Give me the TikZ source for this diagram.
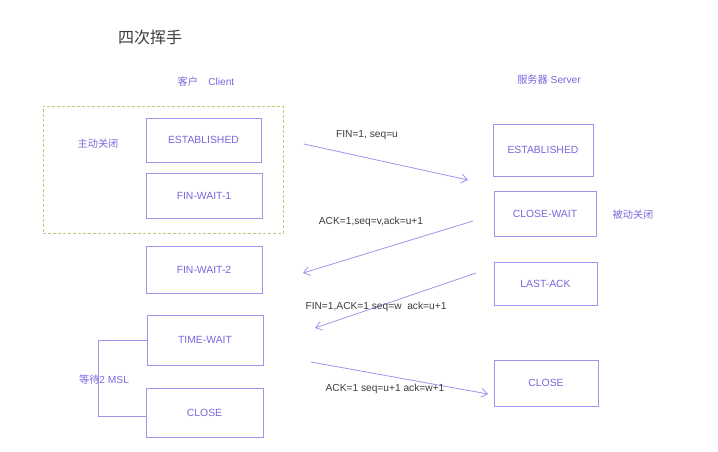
\documentclass[tikz,border=0pt]{standalone}
\usepackage{fontspec}
\setmainfont{Liberation Sans}
\newfontfamily\cjk{Noto Sans CJK SC}
\usepackage{tikz}
\usetikzlibrary{arrows.meta,positioning}

\definecolor{boxline}{RGB}{165,145,235}
\definecolor{boxtext}{RGB}{125,100,220}
\definecolor{msgtext}{RGB}{60,60,60}
\definecolor{groupline}{RGB}{185,205,125}

\begin{document}
\begin{tikzpicture}[x=1pt,y=-1pt]
\tikzstyle{state}=[rectangle,draw=boxline,line width=0.8pt,text=boxtext,font=\fontsize{10.4}{12}\selectfont,inner sep=0pt]
\tikzstyle{msg}=[draw=boxline,line width=0.8pt,-{Straight Barb[length=6pt,width=9pt]}]
\tikzstyle{lbl}=[text=msgtext,font=\fontsize{10.2}{12}\selectfont,inner sep=0pt]
\tikzstyle{side}=[text=boxtext,font=\fontsize{10.2}{12}\selectfont,inner sep=0pt]

\useasboundingbox (0,0) rectangle (718,451);

\node[text=msgtext,font=\cjk\fontsize{16}{18}\selectfont] (title) at (150,37) {四次挥手};

% client side
\node[side] (client) at (206,82) {{\cjk 客户}\quad Client};
\node[draw=groupline,line width=0.8pt,dash pattern=on 3pt off 2pt,minimum width=240pt,minimum height=127pt] (active) at (163,169.5) {};
\node[side,font=\cjk\fontsize{10.2}{12}\selectfont] (activelbl) at (98,144) {主动关闭};
\node[state,minimum width=115pt,minimum height=44pt] (cest) at (203.5,140) {ESTABLISHED};
\node[state,minimum width=116pt,minimum height=45pt] (fw1) at (204,195.5) {FIN-WAIT-1};
\node[state,minimum width=116pt,minimum height=47pt] (fw2) at (204,269.5) {FIN-WAIT-2};
\node[state,minimum width=116pt,minimum height=50pt] (tw) at (205,340) {TIME-WAIT};
\node[state,minimum width=117pt,minimum height=49pt] (cclose) at (204.5,412.5) {CLOSE};

% server side
\node[side] (server) at (549,80) {{\cjk 服务器} Server};
\node[state,minimum width=100pt,minimum height=52pt] (sest) at (543,150) {ESTABLISHED};
\node[state,minimum width=102pt,minimum height=45pt] (cw) at (545,213.5) {CLOSE-WAIT};
\node[side,font=\cjk\fontsize{10.2}{12}\selectfont] (passivelbl) at (633,215) {被动关闭};
\node[state,minimum width=103pt,minimum height=43pt] (la) at (545.5,283.5) {LAST-ACK};
\node[state,minimum width=104pt,minimum height=46pt] (sclose) at (546,383) {CLOSE};

% messages
\coordinate (m1s) at (304,144);
\coordinate (m1e) at (468,180);
\coordinate (m2s) at (473,221);
\coordinate (m2e) at (303,273);
\coordinate (m3s) at (476,273);
\coordinate (m3e) at (315,328);
\coordinate (m4s) at (311,362);
\coordinate (m4e) at (488,394);
\draw[msg] (m1s) -- (m1e);
\draw[msg] (m2s) -- (m2e);
\draw[msg] (m3s) -- (m3e);
\draw[msg] (m4s) -- (m4e);
\node[lbl] (fin1) at (367,135) {FIN=1, seq=u};
\node[lbl] (ack1) at (371,222) {ACK=1,seq=v,ack=u+1};
\node[lbl] (fin2) at (376,307) {FIN=1,ACK=1 seq=w\ \ ack=u+1};
\node[lbl] (ack2) at (385,389) {ACK=1 seq=u+1 ack=w+1};

% 2MSL bracket
\draw[boxline,line width=0.8pt] (tw.west) -- ++(-48,0) |- ([yshift=-4pt]cclose.west);
\node[side] (msl) at (104,380) {{\cjk 等待}2 MSL};
\end{tikzpicture}
\end{document}
